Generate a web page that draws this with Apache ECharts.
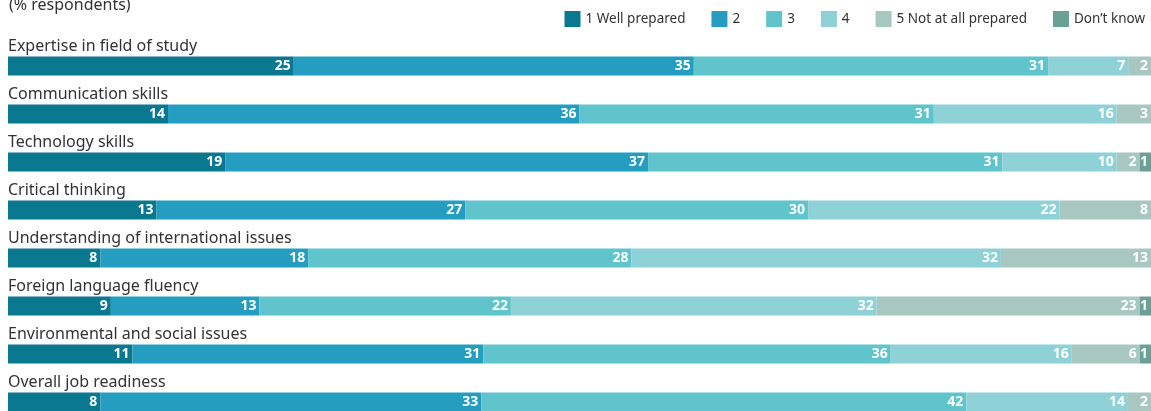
<!DOCTYPE html>
<html>
<head>
<meta charset="utf-8">
<script src="https://cdn.jsdelivr.net/npm/echarts@6/dist/echarts.min.js"></script>
<style>
  html, body { margin: 0; padding: 0; background: #fff; }
  #chart { width: 1151px; height: 411px; }
</style>
</head>
<body>
<div id="chart"></div>
<script>
// Survey categories (top to bottom)
const categories = [
  "Expertise in field of study",
  "Communication skills",
  "Technology skills",
  "Critical thinking",
  "Understanding of international issues",
  "Foreign language fluency",
  "Environmental and social issues",
  "Overall job readiness"
];

// Share of respondents (%) for each answer
const wellPrepared = [25, 14, 19, 13, 8, 9, 11, 8];
const level2       = [35, 36, 37, 27, 18, 13, 31, 33];
const level3       = [31, 31, 31, 30, 28, 22, 36, 42];
const level4       = [7, 16, 10, 22, 32, 32, 16, 14];
const notPrepared  = [2, 3, 2, 8, 13, 23, 6, 2];
const dontKnow     = [null, null, 1, null, null, 1, 1, null];

const seriesNames = ["1 Well prepared", "2", "3", "4", "5 Not at all prepared", "Don\u2019t know"];
const seriesValues = [wellPrepared, level2, level3, level4, notPrepared, dontKnow];
const colors = ["#0b7891", "#249dc0", "#5fc4cc", "#8ed2d8", "#a8c7c1", "#6aa197"];

const FONT = '"Noto Sans", sans-serif';

// Each row is drawn as a 100% stacked bar; the label shows the reported value
const rowTotals = categories.map((_, i) =>
  seriesValues.reduce((s, arr) => s + (arr[i] || 0), 0));

const series = seriesValues.map((vals, k) => ({
  name: seriesNames[k],
  type: 'bar',
  stack: 'total',
  barWidth: 19,
  itemStyle: { color: colors[k] },
  emphasis: { disabled: true },
  data: vals.map((v, i) => v == null ? null : { value: v / rowTotals[i] * 100, raw: v }),
  label: {
    show: true,
    position: 'insideRight',
    distance: 3,
    color: '#fff',
    fontFamily: FONT,
    fontWeight: 'bold',
    fontSize: 14,
    formatter: p => (p.data && p.data.raw != null) ? String(p.data.raw) : ''
  }
}));

const chart = echarts.init(document.getElementById('chart'), null, { renderer: 'canvas' });
chart.setOption({
  animation: false,
  title: {
    text: '(% respondents)',
    left: 4,
    top: -8,
    textStyle: { fontFamily: FONT, fontSize: 16, fontWeight: 'normal', color: '#333' }
  },
  legend: {
    right: 1,
    top: 6,
    icon: 'rect',
    itemWidth: 16,
    itemHeight: 16,
    itemGap: 26,
    selectedMode: false,
    textStyle: { fontFamily: FONT, fontSize: 13.5, color: '#333' },
    data: seriesNames
  },
  grid: { left: 8, right: 0, top: 42, height: 384, containLabel: false, outerBoundsMode: 'none' },
  xAxis: {
    type: 'value',
    min: 0,
    max: 100,
    show: false
  },
  yAxis: {
    type: 'category',
    inverse: true,
    data: categories,
    axisLine: { show: false },
    axisTick: { show: false },
    splitLine: { show: false },
    axisLabel: {
      inside: true,
      margin: 0,
      align: 'left',
      verticalAlign: 'bottom',
      padding: [0, 0, 12, 0],
      fontFamily: FONT,
      fontSize: 16,
      color: '#333'
    }
  },
  series: series
});
</script>
</body>
</html>
